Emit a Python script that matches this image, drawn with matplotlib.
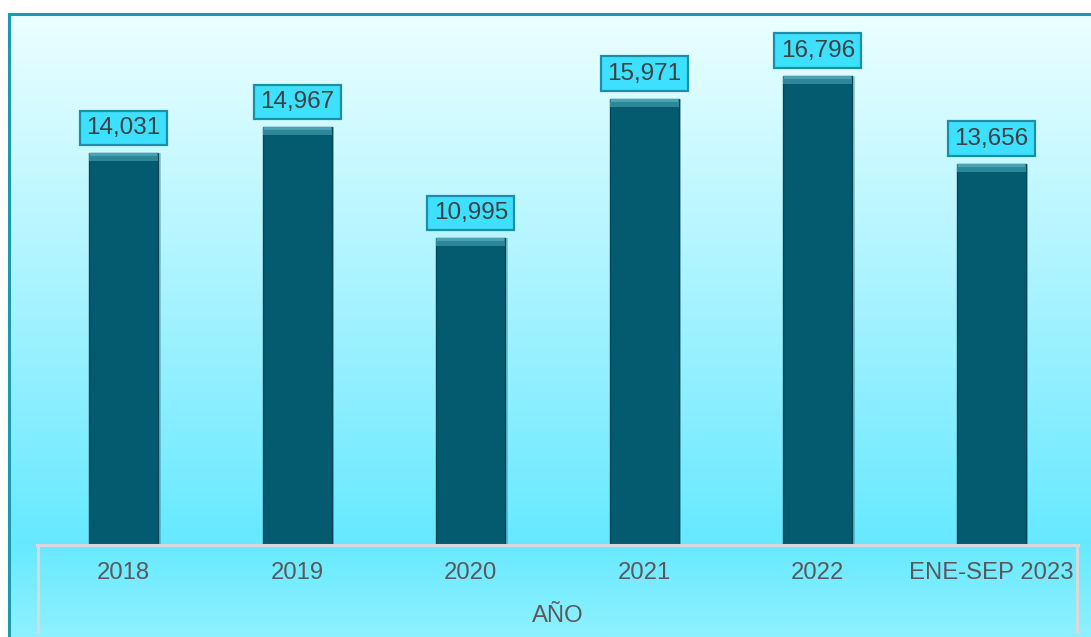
import numpy as np
import matplotlib
matplotlib.use("Agg")
import matplotlib.pyplot as plt
from matplotlib.colors import LinearSegmentedColormap
from matplotlib.lines import Line2D

# datos
categorias = ['2018', '2019', '2020', '2021', '2022', 'ENE-SEP 2023']
valores = [14031, 14967, 10995, 15971, 16796, 13656]
titulo_eje = 'AÑO'

plt.rcParams['font.family'] = ['Liberation Sans', 'DejaVu Sans']

W, H = 1091, 637
fig = plt.figure(figsize=(W / 100, H / 100), dpi=100)
fig.patch.set_facecolor('white')

# fondo con degradado
bg = fig.add_axes([8 / W, 0, 1 - 8 / W, (H - 13) / H])
grad = LinearSegmentedColormap.from_list('fondo', [
    (0.0, '#8ff1ff'), (0.15, '#66e9ff'), (0.55, '#a8f3ff'), (1.0, '#ecffff')])
bg.imshow(np.linspace(0, 1, 256).reshape(-1, 1), aspect='auto', cmap=grad,
          origin='lower', extent=[0, 1, 0, 1])
bg.set_xlim(0, 1)
bg.set_ylim(0, 1)
bg.axis('off')

# borde del area
fig.add_artist(Line2D([9 / W, 1], [(H - 14) / H] * 2, color='#1a9aaa', lw=2.2))
fig.add_artist(Line2D([9 / W] * 2, [0, (H - 14) / H], color='#1a9aaa', lw=2.2))

# ejes principales
ax = fig.add_axes([37 / W, (H - 546) / H, (1078 - 37) / W, (546 - 13) / H])
ax.patch.set_alpha(0)
x = np.arange(len(categorias))
ancho = 0.40

# sombra, cuerpo y bisel superior
ax.bar(x + 0.012, valores, width=ancho, color='#0b3d4a', alpha=0.25, zorder=1)
ax.bar(x, valores, width=ancho, color='#045a6e', edgecolor='#03495a', lw=1.0, zorder=2)
bisel = 300
ax.bar(x, [bisel] * len(x), bottom=[v - bisel for v in valores], width=ancho,
       color='#2c8799', edgecolor='none', zorder=3)
ax.bar(x, [bisel * 0.4] * len(x), bottom=[v - bisel * 0.4 for v in valores],
       width=ancho * 0.96, color='#4aa3b3', edgecolor='none', zorder=4)

ax.set_xlim(-0.5, len(categorias) - 0.5)
ax.set_ylim(0, 19030)
ax.axis('off')

for xi, v in zip(x, valores):
    ax.annotate(f'{v:,}', (xi, v), xytext=(0, 10), textcoords='offset points',
                ha='center', va='bottom', fontsize=17.5, color='#404040', zorder=5,
                bbox=dict(boxstyle='square,pad=0.26', fc='#3de0ff', ec='#1a90a6', lw=1.6))

# caja del eje de categorias
gris = '#d9d9d9'
fig.add_artist(Line2D([37 / W, 1078 / W], [(H - 545) / H] * 2, color=gris, lw=2.2))
fig.add_artist(Line2D([38 / W] * 2, [(H - 545) / H, (H - 632) / H], color=gris, lw=2.2))
fig.add_artist(Line2D([1077 / W] * 2, [(H - 545) / H, (H - 632) / H], color=gris, lw=2.2))

for xi, c in zip(x, categorias):
    ax.text(xi, -(573 - 546) / (546 - 13) * 19030, c, ha='center', va='center',
            fontsize=17.2, color='#595959', clip_on=False)
fig.text((37 + 1078) / 2 / W, (H - 616) / H, titulo_eje, ha='center', va='center',
         fontsize=17.2, color='#595959')

fig.savefig('out.png', dpi=100)
